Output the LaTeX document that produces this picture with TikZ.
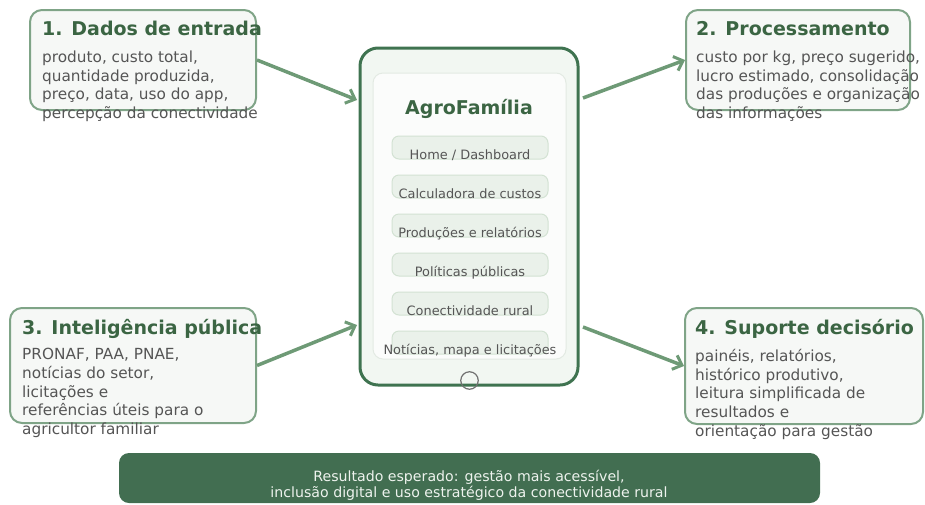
\documentclass[tikz,border=0pt]{standalone}
\usepackage{fontspec}
\setmainfont{DejaVu Sans}
\usetikzlibrary{arrows.meta}
\definecolor{titlegreen}{HTML}{3B6543}
\definecolor{bodygray}{HTML}{555555}
\definecolor{circlegray}{HTML}{707070}
\definecolor{boxborder}{HTML}{7FA487}
\definecolor{boxfill}{HTML}{F6F8F6}
\definecolor{arrowgreen}{HTML}{6E9A76}
\definecolor{phoneborder}{HTML}{3F7350}
\definecolor{phonefill}{HTML}{F2F7F2}
\definecolor{screenfill}{HTML}{FBFCFB}
\definecolor{screenborder}{HTML}{E3EAE3}
\definecolor{btnfill}{HTML}{EAF1EA}
\definecolor{btnborder}{HTML}{D3E2D3}
\definecolor{bannerfill}{HTML}{426E51}
\definecolor{bannertext}{HTML}{EEF3EE}
\tikzset{
  infobox/.style={draw=boxborder, fill=boxfill, line width=2pt, rounded corners=12pt, inner sep=0pt},
  titletext/.style={anchor=base west, inner sep=0pt, text=titlegreen, font=\fontsize{19}{22}\selectfont\bfseries},
  bodytext/.style={anchor=base west, inner sep=0pt, align=left, text=bodygray, font=\fontsize{15.3}{18.7}\selectfont},
  phonebox/.style={draw=phoneborder, fill=phonefill, line width=3pt, rounded corners=18pt, inner sep=0pt},
  screenbox/.style={draw=screenborder, fill=screenfill, line width=1pt, rounded corners=10pt, inner sep=0pt},
  btnbox/.style={draw=btnborder, fill=btnfill, line width=1pt, rounded corners=7pt, inner sep=0pt, minimum width=156pt, minimum height=23pt},
  btntext/.style={anchor=base, inner sep=0pt, text=bodygray, font=\fontsize{12.9}{15}\selectfont},
  flow/.style={draw=arrowgreen, line width=3.5pt, -{Straight Barb[length=8pt,width=15pt,line width=3pt]}},
}
\begin{document}
\begin{tikzpicture}[x=1pt,y=-1pt]
\useasboundingbox (0,0) rectangle (925,504);
% boxes
\node[infobox, minimum width=226pt, minimum height=100pt] (b1) at (143,60) {};
\node[infobox, minimum width=224pt, minimum height=100pt] (b2) at (798,60) {};
\node[infobox, minimum width=246pt, minimum height=115pt] (b3) at (133,365.5) {};
\node[infobox, minimum width=238pt, minimum height=116pt] (b4) at (804,366) {};
% box texts (base anchor = baseline of last line)
\node[titletext] (t1) at (42,35.7) {1. Dados de entrada};
\node[bodytext] (d1) at (42,118.6) {produto, custo total,\\quantidade produzida,\\preço, data, uso do app,\\percepção da conectividade};
\node[titletext] (t2) at (696,35.7) {2. Processamento};
\node[bodytext] (d2) at (696,118.6) {custo por kg, preço sugerido,\\lucro estimado, consolidação\\das produções e organização\\das informações};
\node[titletext] (t3) at (22,334.5) {3. Inteligência pública};
\node[bodytext] (d3) at (22,434.6) {PRONAF, PAA, PNAE,\\notícias do setor,\\licitações e\\referências úteis para o\\agricultor familiar};
\node[titletext] (t4) at (695,334.5) {4. Suporte decisório};
\node[bodytext] (d4) at (695,436.3) {painéis, relatórios,\\histórico produtivo,\\leitura simplificada de\\resultados e\\orientação para gestão};
% phone
\node[phonebox, minimum width=218pt, minimum height=337pt] (phone) at (469,216.5) {};
\node[screenbox, minimum width=193pt, minimum height=286pt] (screen) at (469.5,216) {};
\node[anchor=base, inner sep=0pt, text=titlegreen, font=\fontsize{19}{22}\selectfont\bfseries] (app) at (469,114) {AgroFamília};
\node[btnbox] (m1) at (470,147.5) {};
\node[btnbox] (m2) at (470,186.5) {};
\node[btnbox] (m3) at (470,225.5) {};
\node[btnbox] (m4) at (470,264.5) {};
\node[btnbox] (m5) at (470,303.5) {};
\node[btnbox] (m6) at (470,342.5) {};
\node[btntext] (l1) at (470,159) {Home / Dashboard};
\node[btntext] (l2) at (470,198) {Calculadora de custos};
\node[btntext] (l3) at (470,237) {Produções e relatórios};
\node[btntext] (l4) at (470,276) {Políticas públicas};
\node[btntext] (l5) at (470,315) {Conectividade rural};
\node[btntext] (l6) at (470,354) {Notícias, mapa e licitações};
\node[draw=circlegray, circle, line width=1.2pt, minimum size=17.5pt, inner sep=0pt] (homebtn) at (469.5,380.5) {};
% arrows
\coordinate (pin1) at (357,100);
\coordinate (pout2) at (583,98);
\coordinate (pin3) at (357,325);
\coordinate (pout4) at (583,327);
\draw[flow] (b1.east) -- (pin1);
\draw[flow] (pout2) -- (b2.west);
\draw[flow] (b3.east) -- (pin3);
\draw[flow] (pout4) -- (b4.west);
% banner
\node[fill=bannerfill, rounded corners=10pt, minimum width=701pt, minimum height=50pt, inner sep=0pt] (banner) at (469.5,478) {};
\node[anchor=base, inner sep=0pt, align=center, text=bannertext, font=\fontsize{14.15}{16}\selectfont] (res) at (469,497) {Resultado esperado: gestão mais acessível,\\inclusão digital e uso estratégico da conectividade rural};
\end{tikzpicture}
\end{document}
